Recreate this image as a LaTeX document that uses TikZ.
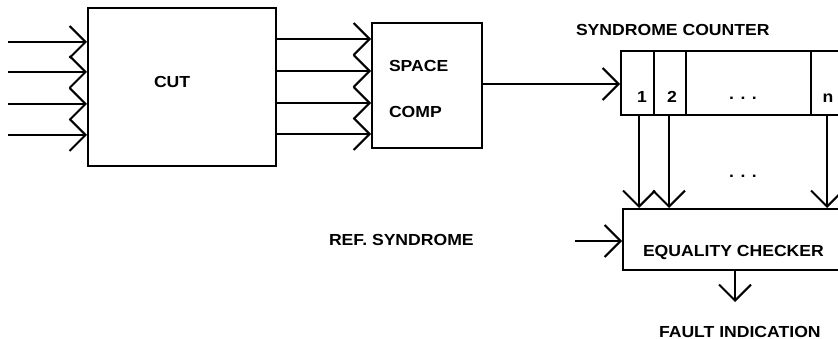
\documentclass[tikz,border=0pt]{standalone}
\usepackage{fontspec}
\setmainfont{Liberation Sans}[FakeStretch=1.1]
\usetikzlibrary{arrows.meta}
\begin{document}
\begin{tikzpicture}[x=1pt,y=-1pt, line width=2pt,
  box/.style={draw, rectangle, line width=2pt, inner sep=0pt},
  lbl/.style={font=\bfseries\fontsize{16}{16}\selectfont, inner sep=0pt, anchor=base west},
  dots/.style={font=\bfseries\fontsize{16}{16}\selectfont, inner sep=0pt, anchor=base},
  arr/.style={-{Straight Barb[length=16pt,width=32pt]}},
]
\useasboundingbox (0,0) rectangle (838,339);
\clip (0,0) rectangle (838,339);
% boxes
\node[box, minimum width=188pt, minimum height=158pt] (cut) at (182,87) {};
\node[box, minimum width=110pt, minimum height=125pt] (sc) at (427,85.5) {};
\node[box, minimum width=228pt, minimum height=64pt] (cnt) at (735,83) {};
\node[box, minimum width=226pt, minimum height=61pt] (eq) at (736,239.5) {};
% counter cell dividers
\draw (654,51) coordinate (d1t) -- (654,115) coordinate (d1b);
\draw (686,51) coordinate (d2t) -- (686,115) coordinate (d2b);
\draw (811,51) coordinate (d3t) -- (811,115) coordinate (d3b);
% texts
\node[lbl] (tcut) at (153,88) {CUT};
\node[lbl] (tspace) at (388,72) {SPACE};
\node[lbl] (tcomp) at (388,118) {COMP};
\node[lbl] (tsc) at (575,36) {SYNDROME COUNTER};
\node[lbl] (tref) at (328,245) {REF. SYNDROME};
\node[lbl] (teq) at (642,257) {EQUALITY CHECKER};
\node[lbl] (tfault) at (658,337) {FAULT INDICATION};
\node[dots] (c1) at (642,103) {1};
\node[dots] (c2) at (672,103) {2};
\node[dots] (cd) at (743,100) {. . .};
\node[dots] (cn) at (828,103) {n};
\node[dots] (vd) at (743,178) {. . .};
% inputs to CUT
\foreach \y [count=\i] in {42,72,104,135}{
  \coordinate (in\i) at (8,\y);
  \draw[arr] (in\i) -- (in\i -| cut.west);
}
% CUT to SPACE COMP
\foreach \y [count=\i] in {39,71,103,134}{
  \coordinate (o\i) at (276,\y);
  \draw[arr] (o\i -| cut.east) -- (o\i -| sc.west);
}
% SPACE COMP to counter
\coordinate (scout) at (482,84);
\draw[arr] (scout -| sc.east) -- (scout -| cnt.west);
% counter to checker
\foreach \x [count=\i] in {639,669,827}{
  \coordinate (v\i) at (\x,115);
  \draw[arr] (v\i |- cnt.south) -- (v\i |- eq.north);
}
% ref syndrome
\coordinate (ref) at (575,241);
\draw[arr] (ref) -- (ref -| eq.west);
% fault
\coordinate (fo) at (735,302);
\draw[arr] (fo |- eq.south) -- (fo);
\end{tikzpicture}
\end{document}
